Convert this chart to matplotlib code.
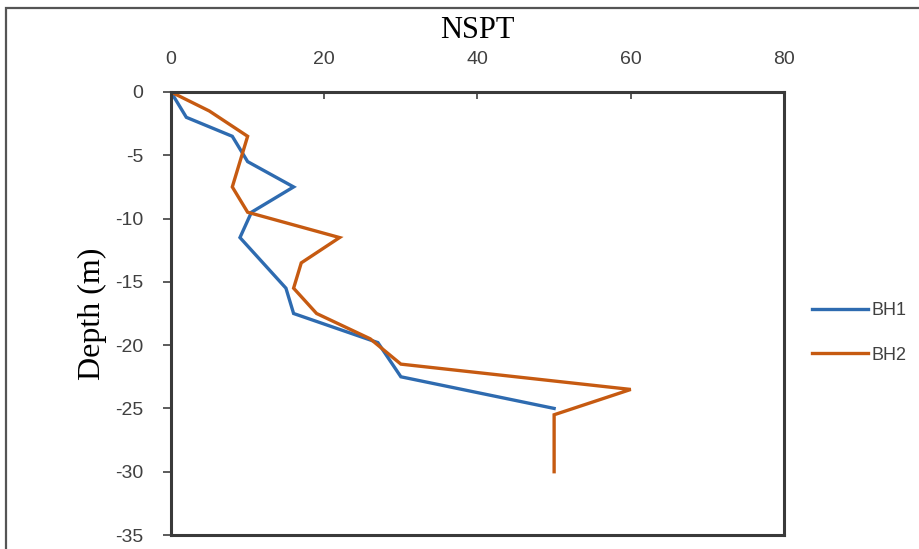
import matplotlib
matplotlib.use("Agg")
import matplotlib.pyplot as plt
from matplotlib.patches import Rectangle

plt.rcParams["axes.unicode_minus"] = False

# NSPT profiles
bh1_nspt = [0, 2, 8, 10, 16, 10.5, 9, 15, 16, 27, 30, 50]
bh1_depth = [0, -2, -3.5, -5.5, -7.5, -9.5, -11.5, -15.5, -17.5, -19.8, -22.5, -25]
bh2_nspt = [0, 5, 10, 8, 10, 22, 17, 16, 19, 26, 30, 60, 50, 50]
bh2_depth = [0, -1.5, -3.5, -7.5, -9.5, -11.5, -13.5, -15.5, -17.5, -19.5, -21.5, -23.5, -25.5, -30]
x_ticks = [0, 20, 40, 60, 80]
y_ticks = [0, -5, -10, -15, -20, -25, -30, -35]

BLUE = "#2E6BB0"
ORANGE = "#C65A11"
GRAY = "#404040"
TICK_FONT = "Liberation Sans"

fig = plt.figure(figsize=(9.2, 5.49), dpi=100)
ax = fig.add_axes([171 / 920, 1 - 535 / 549, (784 - 171) / 920, (535 - 92) / 549])

ax.plot(bh1_nspt, bh1_depth, color=BLUE, lw=2.4, label="BH1", solid_joinstyle="miter")
ax.plot(bh2_nspt, bh2_depth, color=ORANGE, lw=2.4, label="BH2", solid_joinstyle="miter")

ax.set_xlim(0, 80)
ax.set_ylim(-35, 0)
ax.set_xticks(x_ticks)
ax.set_yticks(y_ticks)
ax.xaxis.tick_top()
ax.xaxis.set_label_position("top")
ax.tick_params(axis="x", direction="in", length=5, width=1.2, color=GRAY,
               labelsize=14, labelcolor=GRAY, pad=17)
ax.tick_params(axis="y", direction="out", length=6, width=1.2, color=GRAY,
               labelsize=14, labelcolor=GRAY, pad=14)
for lab in ax.get_xticklabels() + ax.get_yticklabels():
    lab.set_family(TICK_FONT)

for s in ax.spines.values():
    s.set_color("#3a3a3a")
    s.set_linewidth(2.2)

xl = ax.set_xlabel("NSPT", family="Liberation Serif", fontsize=22, color="black")
xl.set_va("center")
ax.xaxis.set_label_coords(0.5, 1 + 61 / 443)
ax.set_ylabel("Depth (m)", family="Liberation Serif", fontsize=23, color="black", labelpad=6)

ax.legend(loc="center left", bbox_to_anchor=(796 / 920, 1 - 333 / 549),
          bbox_transform=fig.transFigure, frameon=False,
          handlelength=3.1, handletextpad=0.2, labelspacing=1.5,
          labelcolor=GRAY, prop={"family": TICK_FONT, "size": 13})

# outer chart border (cut at right and bottom in the reference)
fig.patches.append(Rectangle((6 / 920, -0.05), 1.2, 1 - 8 / 549 + 0.05,
                             transform=fig.transFigure, fill=False,
                             edgecolor="#555555", lw=1.6))

fig.savefig("out.png", dpi=100)
